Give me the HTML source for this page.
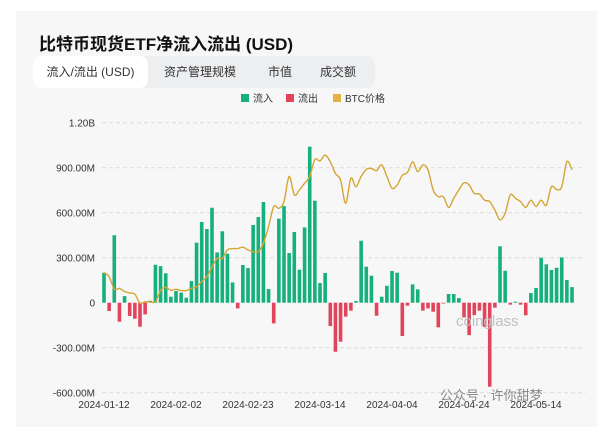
<!DOCTYPE html>
<html><head><meta charset="utf-8">
<style>
body{margin:0;width:600px;height:435px;background:#fff;overflow:hidden;font-family:"Liberation Sans","Noto Sans CJK SC",sans-serif;}
#card{position:absolute;left:16px;top:11px;width:581px;height:416px;background:#f7f7f7;}
#title{position:absolute;left:39px;top:30px;font-size:17px;font-weight:bold;color:#111;}
#tabs{position:absolute;left:33px;top:56px;width:342px;height:32px;background:#eceef0;border-radius:8px;}
.tab{position:absolute;top:0;height:32px;line-height:32px;font-size:12px;color:#333;}
#t1{left:0;width:115px;background:#fff;border-radius:8px;text-align:center;}
svg{position:absolute;left:0;top:0;}
</style></head><body>
<div id="card"></div>
<div id="title">比特币现货ETF净流入流出 (USD)</div>
<div id="tabs">
<div class="tab" id="t1">流入/流出 (USD)</div>
<div class="tab" style="left:131px">资产管理规模</div>
<div class="tab" style="left:235px">市值</div>
<div class="tab" style="left:287px">成交额</div>
</div>
<svg id="chart" width="600" height="435"></svg>
<script>
const flows=[200,-55,450,-127,44,-89,-107,-160,-78,13,253,244,196,40,78,67,33,144,400,538,491,633,335,476,327,135,-38,251,231,518,571,671,91,-138,560,644,331,471,220,502,1040,680,131,198,-156,-327,-260,-93,-53,11,413,240,180,-87,40,113,211,200,-222,-20,122,89,-53,-38,-60,-164,-4,58,58,31,-98,-216,-82,-53,-160,-560,-33,376,213,-13,7,-13,-84,64,98,300,256,218,233,302,151,104];
const prices=[46700,45800,43000,43200,42500,42200,41900,39900,40200,40200,40200,42800,43400,42800,43000,42700,42700,43200,43600,44700,45800,48000,49900,49900,51800,52100,52100,52400,51800,51400,51400,53300,57000,61500,61100,62600,68200,64100,65200,66700,68200,72000,71700,73000,71500,68900,67400,62200,67800,65900,68200,69800,70000,69500,70800,68200,65600,66300,68500,69100,71500,69300,70800,69700,65200,63700,63700,61300,63300,65200,66800,66300,64400,64300,62900,62600,60700,58500,60000,64100,63300,62600,61300,62900,61500,62900,61800,65900,65300,65900,71500,69700];
const yTicks=[1200,900,600,300,0,-300,-600];
const yTickLabels=["1.20B","900.00M","600.00M","300.00M","0","-300.00M","-600.00M"];
const xTickIdx=[0,14,28,42,56,70,84];
const xTickLabels=["2024-01-12","2024-02-02","2024-02-23","2024-03-14","2024-04-04","2024-04-24","2024-05-14"];
const NS="http://www.w3.org/2000/svg";
const svg=document.getElementById('chart');
const y=v=>302.7-v*0.15;
const x=i=>104+i*5.143;
const yp=p=>302.7-(p-40000)/223.5;
function mk(t,a){const e=document.createElementNS(NS,t);for(const k in a)e.setAttribute(k,a[k]);svg.appendChild(e);return e;}
yTicks.forEach((v,i)=>{
 if(v!==0){const g=mk('line',{x1:102,x2:586,y1:y(v),y2:y(v),stroke:'#dcdcdc','stroke-dasharray':'4,3'});
 
 }
 const t=mk('text',{x:95,y:y(v)+4,'text-anchor':'end','font-size':'10',fill:'#333'});
 t.textContent=yTickLabels[i];
 
 
});
xTickIdx.forEach((ix,i)=>{
 const t=mk('text',{x:x(ix),y:408,'text-anchor':'middle','font-size':'10',fill:'#333'});
 t.textContent=xTickLabels[i];
 
 
});
flows.forEach((v,i)=>{
 const r=mk('rect',{x:x(i)-1.8,width:3.6,y:Math.min(y(v),y(0)),height:Math.max(Math.abs(y(v)-y(0)),0.8),fill:v>=0?'#16b07c':'#e0455c'});
 
 
});
const pts=prices.map((p,i)=>[x(i),yp(p)]);
let d='M'+pts[0][0].toFixed(1)+','+pts[0][1].toFixed(1);
for(let i=0;i<pts.length-1;i++){
 const p0=pts[Math.max(i-1,0)],p1=pts[i],p2=pts[i+1],p3=pts[Math.min(i+2,pts.length-1)];
 const c1x=p1[0]+(p2[0]-p0[0])/6,c1y=p1[1]+(p2[1]-p0[1])/6;
 const c2x=p2[0]-(p3[0]-p1[0])/6,c2y=p2[1]-(p3[1]-p1[1])/6;
 d+='C'+c1x.toFixed(1)+','+c1y.toFixed(1)+' '+c2x.toFixed(1)+','+c2y.toFixed(1)+' '+p2[0].toFixed(1)+','+p2[1].toFixed(1);
}
const pl=mk('path',{d:d,fill:'none',stroke:'#d4a633','stroke-width':1.4,'stroke-linejoin':'round'});


const leg=[['#16b07c','流入',241],['#e0455c','流出',286],['#e3b341','BTC价格',333]];
leg.forEach(l=>{
 const r=mk('rect',{x:l[2],y:94,width:8,height:8,fill:l[0]});
 
 
 const t=mk('text',{x:l[2]+12,y:102,'font-size':'10',fill:'#333'});
 t.textContent=l[1];
 
 
});
const w1=mk('text',{x:456,y:326,'font-size':'15',fill:'#c0c0c0'});w1.textContent='coinglass';


const w2=mk('text',{x:440,y:400,'font-size':'13',fill:'#888'});w2.textContent='公众号 · 许你甜梦';


</script>
</body></html>
